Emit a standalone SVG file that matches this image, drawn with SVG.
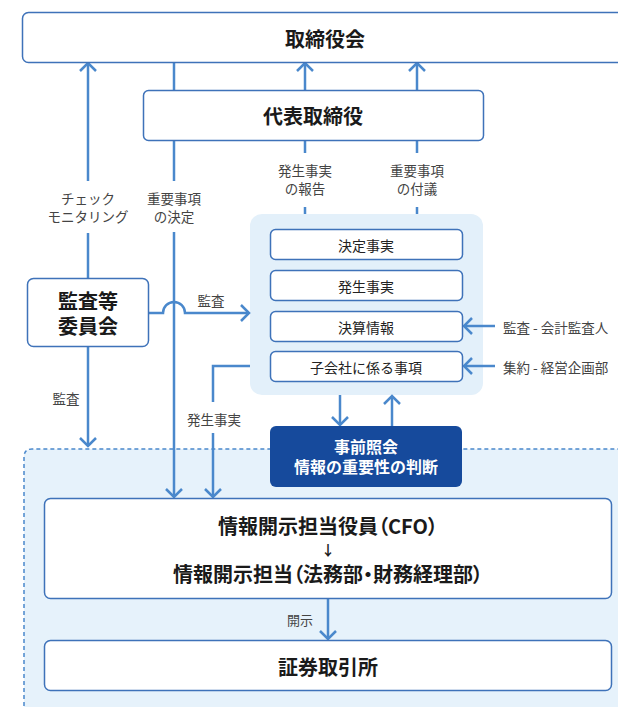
<svg xmlns="http://www.w3.org/2000/svg" width="618" height="707" viewBox="0 0 618 707">
<style>
text{font-family:"Noto Sans CJK JP","Noto Sans",sans-serif;text-anchor:middle;dominant-baseline:central}
.box{fill:#fff;stroke:#3e72b9;stroke-width:1.5}
.ttl{font-size:20px;font-weight:700;fill:#1a1a1a}
.cfo{font-size:20px;font-weight:700;fill:#1a1a1a}
.p{font-feature-settings:"palt"}
.in{font-size:14px;fill:#222}
.lbl{font-size:13.5px;fill:#444}
.ln{fill:none;stroke:#4a88cc;stroke-width:2.5}
</style>
<defs>
<marker id="ah" viewBox="-10 -10 20 20" refX="0" refY="0" markerWidth="20" markerHeight="20" markerUnits="userSpaceOnUse" orient="auto">
<path d="M-8,-8 L0,0 L-8,8" fill="none" stroke="#4a88cc" stroke-width="2.5"/>
</marker>
</defs>
<g id="disclosure-area">
<path d="M24,720 V457 Q24,449 32,449 H640 V720 Z" fill="#e6f2fb" stroke="#4a88cc" stroke-width="1.5" stroke-dasharray="4,3"/>
</g>
<g id="info-panel">
<rect x="250" y="214" width="233" height="181" rx="12" fill="#e3f0fa"/>
</g>
<g id="connectors">
<path class="ln" d="M88,278 V233"/>
<path class="ln" d="M88,181 V63" marker-end="url(#ah)"/>
<path class="ln" d="M174,62 V181"/>
<path class="ln" d="M174,232 V497" marker-end="url(#ah)"/>
<path class="ln" d="M305,90 V63" marker-end="url(#ah)"/>
<path class="ln" d="M417,90 V63" marker-end="url(#ah)"/>
<path class="ln" d="M305,140 V153 M305,207 V214"/>
<path class="ln" d="M417,140 V153 M417,207 V214"/>
<path class="ln" d="M148,313 H163 A11,11 0 0 1 185,313 H249" marker-end="url(#ah)"/>
<path class="ln" d="M88,346 V446" marker-end="url(#ah)"/>
<path class="ln" d="M250,366 H213 V402"/>
<path class="ln" d="M213,433 V497" marker-end="url(#ah)"/>
<path class="ln" d="M340,395 V425" marker-end="url(#ah)"/>
<path class="ln" d="M392,426 V396" marker-end="url(#ah)"/>
<path class="ln" d="M495,326 H464" marker-end="url(#ah)"/>
<path class="ln" d="M495,366 H464" marker-end="url(#ah)"/>
<path class="ln" d="M328,599 V639" marker-end="url(#ah)"/>
<text class="lbl" x="88" y="198">チェック</text>
<text class="lbl" x="88" y="216">モニタリング</text>
<text class="lbl" x="174" y="198">重要事項</text>
<text class="lbl" x="174" y="216">の決定</text>
<text class="lbl" x="305" y="170">発生事実</text>
<text class="lbl" x="305" y="188">の報告</text>
<text class="lbl" x="417" y="170">重要事項</text>
<text class="lbl" x="417" y="188">の付議</text>
<text class="lbl" x="211" y="300">監査</text>
<text class="lbl" x="66" y="398">監査</text>
<text class="lbl" x="214" y="419">発生事実</text>
<text class="lbl" x="503" y="327" style="text-anchor:start">監査 - 会計監査人</text>
<text class="lbl" x="503" y="367" style="text-anchor:start">集約 - 経営企画部</text>
<text class="lbl" x="300" y="619" style="font-size:13px">開示</text>
</g>
<g id="board">
<rect class="box" x="22.5" y="12.5" width="620" height="50" rx="6"/>
<text class="ttl" x="325" y="38">取締役会</text>
</g>
<g id="ceo">
<rect class="box" x="143.5" y="90.5" width="340" height="50" rx="5"/>
<text class="ttl" x="313" y="115">代表取締役</text>
</g>
<g id="audit-committee">
<rect class="box" x="27.5" y="278.5" width="121" height="68" rx="6"/>
<text class="ttl" x="88" y="300">監査等</text>
<text class="ttl" x="88" y="325">委員会</text>
</g>
<g id="decided-facts">
<rect class="box" x="270.5" y="229.5" width="192" height="30" rx="5"/>
<text class="in" x="366" y="245">決定事実</text>
</g>
<g id="occurred-facts">
<rect class="box" x="270.5" y="270.5" width="192" height="30" rx="5"/>
<text class="in" x="366" y="286">発生事実</text>
</g>
<g id="financial-info">
<rect class="box" x="270.5" y="311.5" width="192" height="30" rx="5"/>
<text class="in" x="366" y="327">決算情報</text>
</g>
<g id="subsidiary-matters">
<rect class="box" x="270.5" y="351.5" width="192" height="30" rx="5"/>
<text class="in" x="366" y="367">子会社に係る事項</text>
</g>
<g id="pre-inquiry">
<rect x="270" y="426" width="192" height="61" rx="6" fill="#164a9c"/>
<text x="366" y="446" style="font-size:16px;font-weight:700;fill:#fff">事前照会</text>
<text x="366" y="466" style="font-size:16px;font-weight:700;fill:#fff">情報の重要性の判断</text>
</g>
<g id="cfo">
<rect class="box" x="44.5" y="498.5" width="567" height="100" rx="6"/>
<text class="cfo" x="328" y="525">情報開示担当役員<tspan class="p">（</tspan>CFO<tspan class="p">）</tspan></text>
<text class="cfo" x="328" y="549" style="font-size:14px">↓</text>
<text class="cfo" x="328" y="573">情報開示担当<tspan class="p">（</tspan>法務部<tspan class="p">・</tspan>財務経理部<tspan class="p">）</tspan></text>
</g>
<g id="stock-exchange">
<rect class="box" x="44.5" y="640.5" width="567" height="50" rx="6"/>
<text class="ttl" x="328" y="666">証券取引所</text>
</g>
</svg>
